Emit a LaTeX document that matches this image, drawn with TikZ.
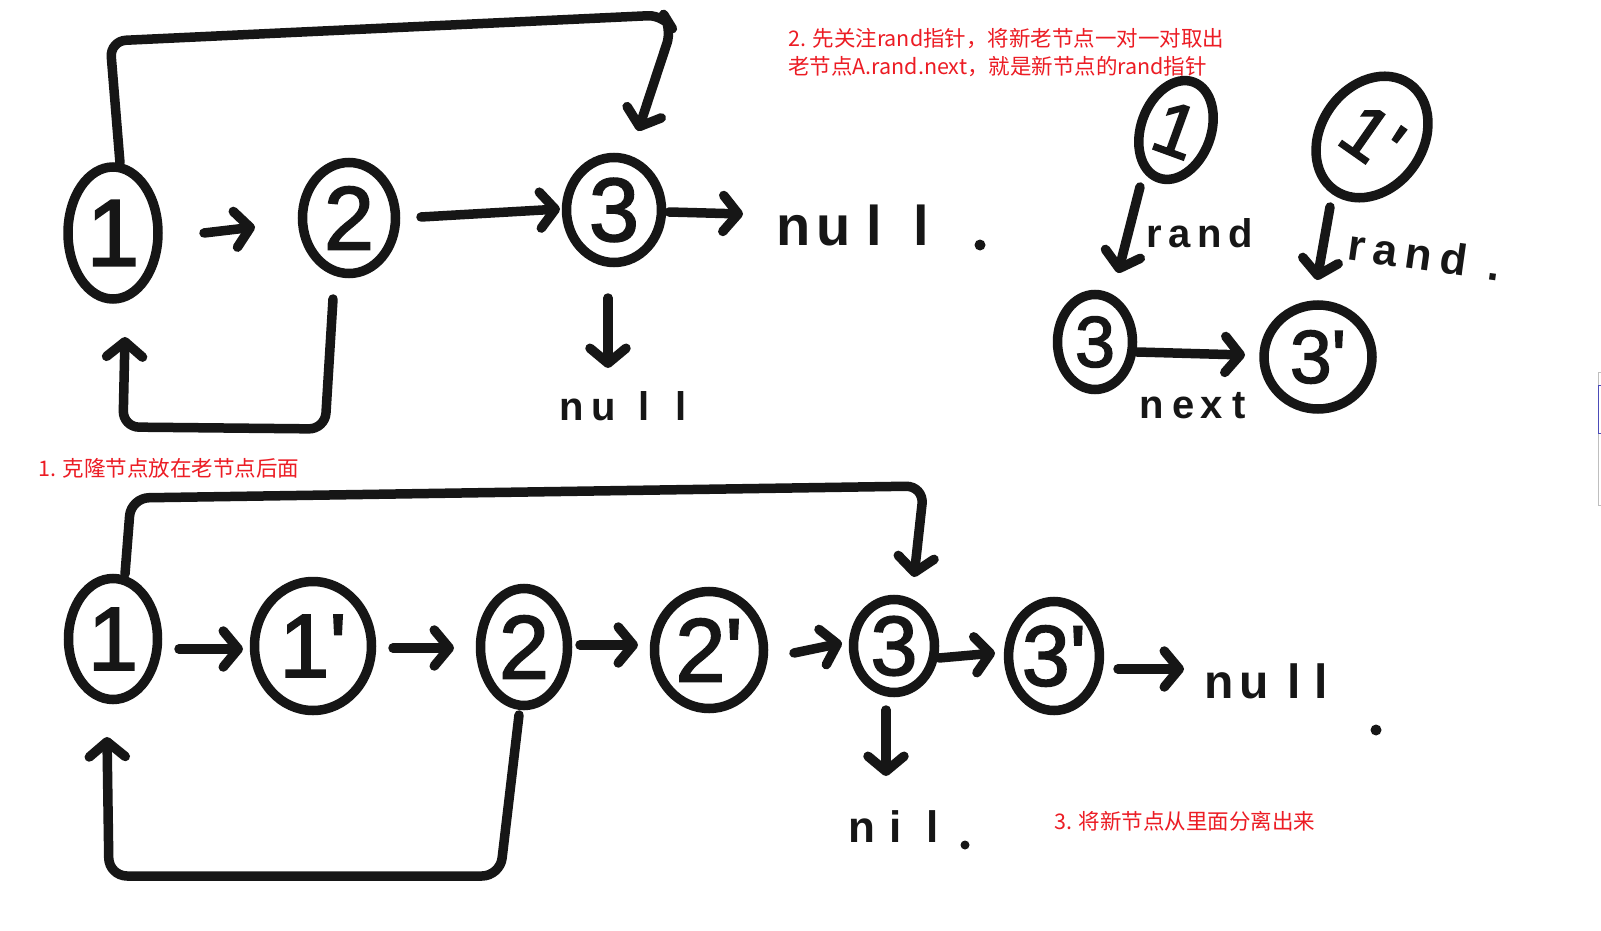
\documentclass[tikz,border=0pt]{standalone}
\usepackage{fontspec}
\setmainfont{Liberation Sans}
\newfontfamily\cjk{Noto Sans CJK SC}
\newfontfamily\hand{Liberation Sans}
\newfontfamily\digf{Liberation Sans}[FakeBold=2]
\usetikzlibrary{shapes.geometric,arrows.meta}
\definecolor{inkc}{RGB}{22,22,22}
\definecolor{redtxt}{RGB}{236,28,36}
\tikzset{
  stroke/.style={draw=inkc,line width=9.5pt,line cap=round,line join=round},
  arr/.style={stroke,-{Straight Barb[length=15pt,width=36pt,round]}},
  nd/.style={ellipse,draw=inkc,line width=9.5pt,inner sep=0pt,text=inkc},
  dig/.style={font=\digf\fontsize{#1}{#1}\selectfont},
  lbl/.style={text=inkc,inner sep=0pt,font=\hand\bfseries\fontsize{#1}{#1}\selectfont},
  note/.style={text=redtxt,inner sep=0pt,anchor=west,font=\cjk\fontsize{21.5}{21.5}\selectfont},
  dotmark/.style={circle,fill=inkc,inner sep=0pt,minimum size=#1},
}
\begin{document}
\begin{tikzpicture}[x=1pt,y=-1pt]
\useasboundingbox (0,0) rectangle (1601,931);
\fill[white] (0,0) rectangle (1601,931);

% ---------- top row ----------
\node[nd,dig=95,minimum width=90pt,minimum height=132pt] (t1) at (113,233) {1};
\node[nd,dig=90,minimum width=93pt,minimum height=111pt] (t2) at (349,218) {2};
\node[nd,dig=90,minimum width=95pt,minimum height=105pt] (t3) at (614,210) {3};
\node[lbl=56] (nl1) at (853,225) {n\hspace{6pt}u\hspace{15pt}l\hspace{32pt}l};
\node[dotmark=11pt] (d1) at (980,245) {};
\node[lbl=40] (nl2) at (623,406) {n\hspace{8pt}u\hspace{22pt}l\hspace{26pt}l};

\draw[arr] ([shift={(91,0)}]t1.center) -- ([shift={(-94,9)}]t2.center);
\draw[arr] ([shift={(72,-1)}]t2.center) -- ([shift={(-54,-1)}]t3.center);
\draw[arr] ([shift={(55,2)}]t3.center) -- ([shift={(-110,-11)}]nl1.center);
\draw[arr] ([shift={(-6,88)}]t3.center) -- ([shift={(-15,-38)}]nl2.center);
\draw[arr,rounded corners=16pt] ([shift={(7,-70)}]t1.center) -- (110,41) -- (664,15) -- (672,28) -- ([shift={(24,-79)}]t3.center);
\draw[arr,rounded corners=16pt] ([shift={(-16,81)}]t2.center) -- (325,429) -- (123,427) -- ([shift={(12,104)}]t1.center);

% ---------- top right ----------
\node[nd,dig=75,minimum width=70pt,minimum height=102pt,rotate=-20] (r1) at (1176,130) {1};
\node[nd,dig=75,minimum width=102pt,minimum height=130pt,rotate=-35] (r2) at (1372,137) {1'};
\node[nd,dig=72,minimum width=75pt,minimum height=95pt] (r3) at (1095,342) {3};
\node[nd,dig=75,minimum width=108pt,minimum height=104pt] (r4) at (1318,357) {3'};
\node[lbl=40] (lr1) at (1200,233) {r\hspace{6pt}a\hspace{7pt}n\hspace{7pt}d};
\node[lbl=44,rotate=-8] (lr2) at (1425,255) {r\hspace{8pt}a\hspace{8pt}n\hspace{8pt}d\hspace{22pt}.};
\node[lbl=40] (lnx) at (1193,406) {n\hspace{8pt}e\hspace{6pt}x\hspace{10pt}t};
\draw[arr] ([shift={(-36,57)}]r1.center) -- ([shift={(23,-69)}]r3.center);
\draw[arr] ([shift={(-42,70)}]r2.center) -- ([shift={(-1,-77)}]r4.center);
\draw[arr] ([shift={(42,10)}]r3.center) -- ([shift={(-73,-2)}]r4.center);

% ---------- bottom row ----------
\node[nd,dig=90,minimum width=89pt,minimum height=121pt] (b1) at (113,639) {1};
\node[nd,dig=90,minimum width=117pt,minimum height=129pt] (b2) at (313,646) {1'};
\node[nd,dig=90,minimum width=87pt,minimum height=117pt] (b3) at (524,647) {2};
\node[nd,dig=90,minimum width=109pt,minimum height=117pt] (b4) at (709,650) {2'};
\node[nd,dig=84,minimum width=81pt,minimum height=93pt] (b5) at (894,646) {3};
\node[nd,dig=86,minimum width=89pt,minimum height=109pt] (b6) at (1054,656) {3'};
\node[lbl=48] (nl3) at (1266,681) {n\hspace{6pt}u\hspace{18pt}l\hspace{14pt}l};
\node[dotmark=11pt] (d2) at (1376,730) {};
\node[lbl=44] (nl4) at (894,827) {n\hspace{14pt}i\hspace{25pt}l};
\node[dotmark=9pt] (d3) at (965,845) {};

\draw[arr] ([shift={(66,10)}]b1.center) -- ([shift={(-70,3)}]b2.center);
\draw[arr] ([shift={(80,2)}]b2.center) -- ([shift={(-70,1)}]b3.center);
\draw[arr] ([shift={(56,-2)}]b3.center) -- ([shift={(-71,-5)}]b4.center);
\draw[arr] ([shift={(85,3)}]b4.center) -- ([shift={(-52,-3)}]b5.center);
\draw[arr] ([shift={(45,12)}]b5.center) -- ([shift={(-59,-3)}]b6.center);
\draw[arr] ([shift={(64,13)}]b6.center) -- ([shift={(-82,-12)}]nl3.center);
\draw[arr] ([shift={(-8,64)}]b5.center) -- ([shift={(-8,-51)}]nl4.center);
\draw[arr,rounded corners=18pt] ([shift={(12,-65)}]b1.center) -- (131,498) -- (924,486) -- ([shift={(20,-69)}]b5.center);
\draw[arr,rounded corners=18pt] ([shift={(-5,68)}]b3.center) -- (500,876) -- (109,876) -- ([shift={(-6,98)}]b1.center);

% ---------- notes ----------
\node[note] (n2a) at (788,39) {2. 先关注rand指针，将新老节点一对一对取出};
\node[note] (n2b) at (788,67) {老节点A.rand.next，就是新节点的rand指针};
\node[note] (n1) at (38,468) {1. 克隆节点放在老节点后面};
\node[note] (n3) at (1054,821) {3. 将新节点从里面分离出来};

% scrollbar edge
\draw[black!25,line width=1pt] (1598,372) rectangle (1606,505);
\draw[blue!60!black!70,line width=1pt] (1598,385) rectangle (1606,433);
\end{tikzpicture}
\end{document}
